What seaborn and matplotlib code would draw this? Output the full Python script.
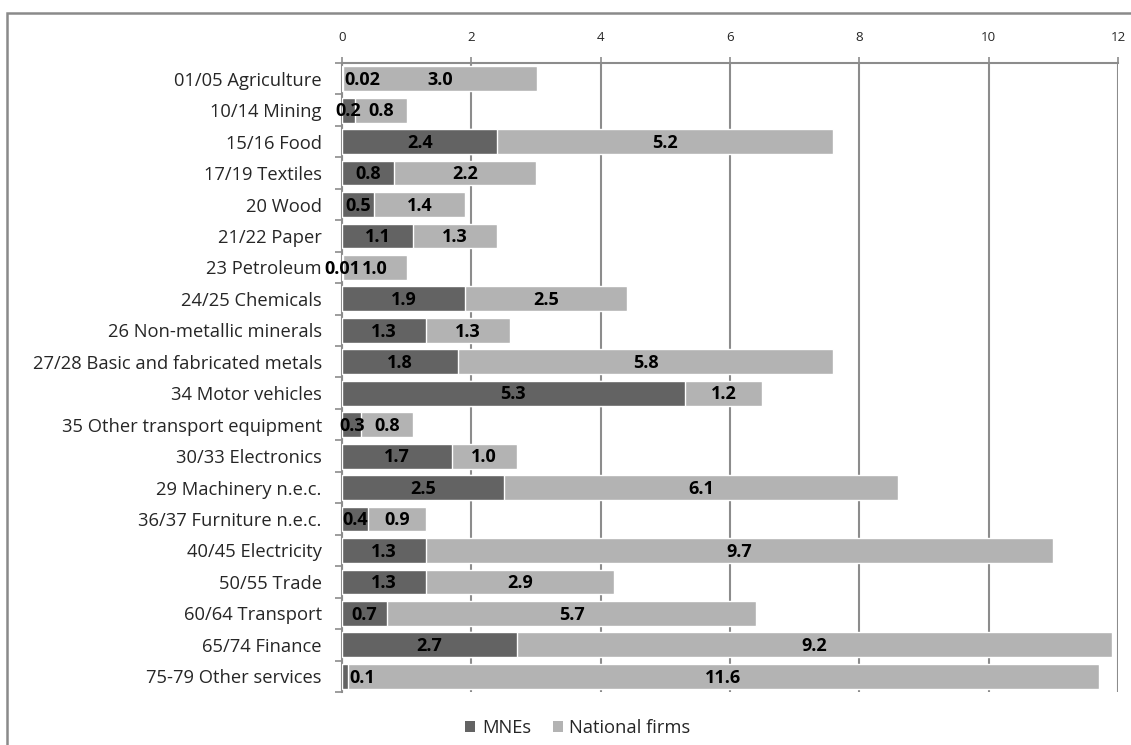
import numpy as np
import pandas as pd
import matplotlib
matplotlib.use("Agg")
import matplotlib.pyplot as plt
from matplotlib.patches import Patch, Rectangle
import seaborn as sns

# Industry categories (top to bottom) and the two components of each bar
sectors = [
    "01/05 Agriculture", "10/14 Mining", "15/16 Food", "17/19 Textiles",
    "20 Wood", "21/22 Paper", "23 Petroleum", "24/25 Chemicals",
    "26 Non-metallic minerals", "27/28 Basic and fabricated metals",
    "34 Motor vehicles", "35 Other transport equipment", "30/33 Electronics",
    "29 Machinery n.e.c.", "36/37 Furniture n.e.c.", "40/45 Electricity",
    "50/55 Trade", "60/64 Transport", "65/74 Finance", "75-79 Other services",
]
mnes = [0.02, 0.2, 2.4, 0.8, 0.5, 1.1, 0.01, 1.9, 1.3, 1.8,
        5.3, 0.3, 1.7, 2.5, 0.4, 1.3, 1.3, 0.7, 2.7, 0.1]
national = [3.0, 0.8, 5.2, 2.2, 1.4, 1.3, 1.0, 2.5, 1.3, 5.8,
            1.2, 0.8, 1.0, 6.1, 0.9, 9.7, 2.9, 5.7, 9.2, 11.6]
x_ticks = [0, 2, 4, 6, 8, 10, 12]
series_names = ["MNEs", "National firms"]

DARK = "#636363"
LIGHT = "#b3b3b3"
GRID = "#8c8c8c"
TEXT_SIZE = 13.2

sns.set_theme(style="white")
plt.rcParams["font.family"] = ["Open Sans", "DejaVu Sans"]

df = pd.DataFrame({"sector": sectors, "mnes": mnes, "national": national})
df["total"] = df["mnes"] + df["national"]

fig = plt.figure(figsize=(11.31, 7.45), dpi=100)
ax = fig.add_axes([342 / 1131, 1 - 692 / 745, (1118 - 342) / 1131, (692 - 63) / 745])

# Stacked horizontal bars: full length in the light colour, MNE share on top
sns.barplot(data=df, x="total", y="sector", color=LIGHT, width=0.79,
            saturation=1, ax=ax, zorder=2)
sns.barplot(data=df, x="mnes", y="sector", color=DARK, width=0.79,
            saturation=1, ax=ax, zorder=3)

ax.set_xlim(0, 12)
ax.set_ylim(len(sectors) - 0.5, -0.5)
ax.set_xlabel("")
ax.set_ylabel("")

# Value axis on top, with vertical gridlines
ax.xaxis.tick_top()
ax.set_xticks(x_ticks)
ax.set_xticklabels([str(t) for t in x_ticks])
ax.tick_params(axis="x", direction="out", length=4.5, width=1.2, color=GRID,
               pad=9, labelsize=9.6, top=True, bottom=False)
ax.grid(axis="x", color=GRID, linewidth=1.5, zorder=0)
ax.set_axisbelow(True)

# Category axis: tick marks between categories
ax.set_yticks(np.arange(-0.5, len(sectors), 1), minor=True)
ax.tick_params(axis="y", which="major", length=0, pad=14.5, labelsize=TEXT_SIZE)
ax.tick_params(axis="y", which="minor", direction="out", length=5,
               width=1.2, color=GRID, left=True)

for side in ["right", "bottom"]:
    ax.spines[side].set_visible(False)
for side in ["top", "left"]:
    ax.spines[side].set_color(GRID)
    ax.spines[side].set_linewidth(1.5)

# Value labels centred in each segment; the slimmest MNE shares in the
# first and last rows get their label just past the end of the segment
def fmt(v):
    return f"{v:.2f}" if v < 0.05 else f"{v:.1f}"

outside_rows = {0, len(sectors) - 1}
label_style = dict(va="center", fontsize=TEXT_SIZE - 0.2, fontweight="bold",
                   color="black", zorder=5)
for i, (m, n) in enumerate(zip(mnes, national)):
    if i in outside_rows:
        ax.text(m + 0.01, i + 0.04, fmt(m), ha="left", **label_style)
    else:
        ax.text(m / 2, i + 0.04, fmt(m), ha="center", **label_style)
    ax.text(m + n / 2, i + 0.04, fmt(n), ha="center", **label_style)

handles = [Patch(facecolor=DARK, edgecolor="none"),
           Patch(facecolor=LIGHT, edgecolor="none")]
fig.legend(handles, series_names, loc="center", bbox_to_anchor=(578 / 1131, 1 - 728 / 745),
           ncol=2, frameon=False, fontsize=TEXT_SIZE, handlelength=0.55,
           handleheight=0.55, handletextpad=0.35, columnspacing=1.2)

# Chart frame
fig.patches.append(Rectangle((7 / 1131, -0.2), 1.5, 0.2 + (1 - 13 / 745),
                             transform=fig.transFigure, fill=False,
                             edgecolor="#8a8a8a", linewidth=1.8))

fig.savefig("out.png", dpi=100)
